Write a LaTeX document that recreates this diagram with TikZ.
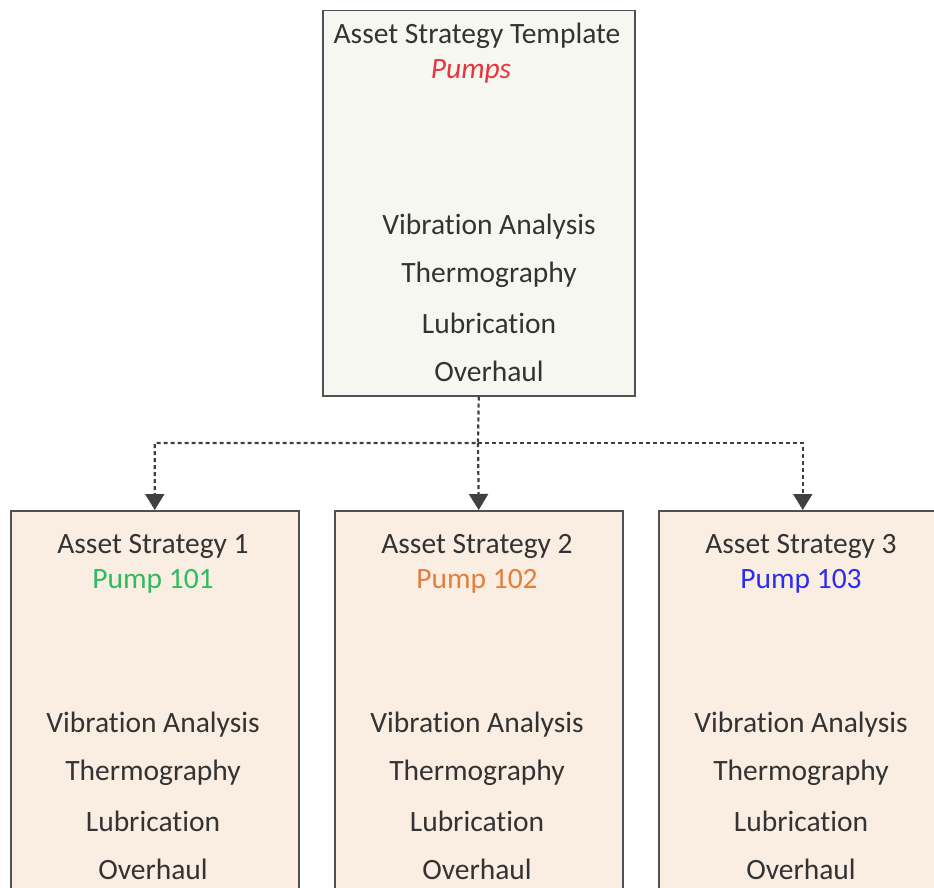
\documentclass[tikz,border=0pt]{standalone}
\usepackage{fontspec}
\setmainfont{Carlito}[Ligatures={NoCommon}]
\usetikzlibrary{arrows.meta}
\definecolor{topfill}{HTML}{F7F7F2}
\definecolor{botfill}{HTML}{FAEDE2}
\definecolor{edge}{HTML}{505050}
\definecolor{ink}{HTML}{333333}
\definecolor{cred}{HTML}{E8343A}
\definecolor{cgreen}{HTML}{2EBD5E}
\definecolor{corange}{HTML}{E37F3B}
\definecolor{cblue}{HTML}{2C2CF2}
\definecolor{conn}{HTML}{404040}
\tikzset{
  x=1pt,y=1pt,
  topbox/.style={draw=edge,line width=1.5pt,fill=topfill},
  botbox/.style={draw=edge,line width=1.5pt,fill=botfill},
  txt/.style={inner sep=0pt,text=ink,font=\fontsize{29.5}{31}\selectfont,anchor=center},
  link/.style={draw=conn,line width=2.2pt,dash pattern=on 4pt off 3pt,-{Triangle[width=19pt,length=16pt]}},
}
\begin{document}
\begin{tikzpicture}
\useasboundingbox (0,0) rectangle (934,-888);
\clip (0,0) rectangle (934,-888);
\fill[white] (0,0) rectangle (934,-888);
% boxes
\node[topbox,minimum width=312pt,minimum height=385pt,anchor=north west,inner sep=0pt] (top) at (322,-10) {};
\node[botbox,minimum width=288pt,minimum height=400pt,anchor=north west,inner sep=0pt] (b1) at (10,-510) {};
\node[botbox,minimum width=288pt,minimum height=400pt,anchor=north west,inner sep=0pt] (b2) at (334,-510) {};
\node[botbox,minimum width=288pt,minimum height=400pt,anchor=north west,inner sep=0pt] (b3) at (658,-510) {};
% top text
\node[txt] (t0) at (477,-36) {Asset Strategy Template};
\node[txt,text=cred,font=\fontsize{29.5}{31}\selectfont\itshape] (t1) at (471,-71) {Pumps};
\node[txt] (t2) at (489,-227) {Vibration Analysis};
\node[txt] (t3) at (489,-275) {Thermography};
\node[txt] (t4) at (489,-323) {Lubrication};
\node[txt] (t5) at (489,-371) {Overhaul};
% bottom texts
\foreach \n/\cx/\col/\num in {1/153/cgreen/101,2/477/corange/102,3/801/cblue/103}{
  \node[txt] (a\n) at (\cx,-546) {Asset Strategy \n};
  \node[txt,text=\col] (p\n) at (\cx,-581) {Pump \num};
  \node[txt] (v\n) at (\cx,-725) {Vibration Analysis};
  \node[txt] (h\n) at (\cx,-773) {Thermography};
  \node[txt] (l\n) at (\cx,-821) {Lubrication};
  \node[txt] (o\n) at (\cx,-869) {Overhaul};
}
% connectors
\coordinate (j) at (478,-443);
\draw[link] (top.south) -- (j) -| (b1.north);
\draw[link] (j) -- (b2.north);
\draw[link] (j) -| (b3.north);
\end{tikzpicture}
\end{document}
